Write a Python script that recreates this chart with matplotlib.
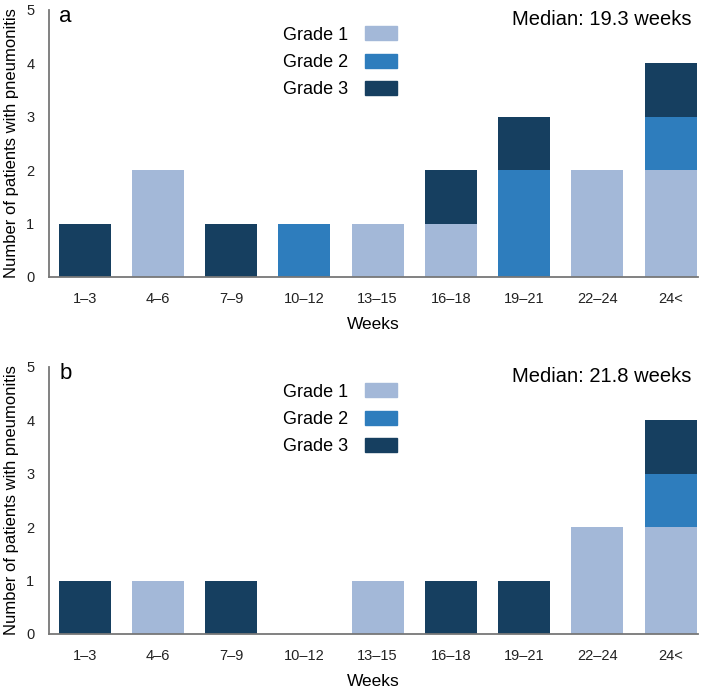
import numpy as np
import matplotlib.pyplot as plt
from matplotlib.patches import Patch

plt.rcParams['font.family'] = ['Liberation Sans', 'DejaVu Sans']

weeks = ['1\u20133', '4\u20136', '7\u20139', '10\u201312', '13\u201315',
         '16\u201318', '19\u201321', '22\u201324', '24<']
grades = ['Grade 1', 'Grade 2', 'Grade 3']
colors = ['#a3b8d8', '#2e7dbd', '#163f60']

# panel a
a_g1 = [0, 2, 0, 0, 1, 1, 0, 2, 2]
a_g2 = [0, 0, 0, 1, 0, 0, 2, 0, 1]
a_g3 = [1, 0, 1, 0, 0, 1, 1, 0, 1]
a_median = 'Median: 19.3 weeks'

# panel b
b_g1 = [0, 1, 0, 0, 1, 0, 0, 2, 2]
b_g2 = [0, 0, 0, 0, 0, 0, 0, 0, 1]
b_g3 = [1, 0, 1, 0, 0, 1, 1, 0, 1]
b_median = 'Median: 21.8 weeks'

fig = plt.figure(figsize=(7.09, 6.90), dpi=100)
ax_a = fig.add_axes([0.069, 0.5986, 0.916, 0.387])
ax_b = fig.add_axes([0.069, 0.0812, 0.916, 0.387])


def draw(ax, g1, g2, g3, median, letter):
    x = np.arange(len(weeks))
    w = 0.71
    ax.bar(x, g1, w, color=colors[0])
    ax.bar(x, g2, w, bottom=g1, color=colors[1])
    ax.bar(x, g3, w, bottom=np.array(g1) + np.array(g2), color=colors[2])
    ax.set_xlim(-0.49, len(weeks) - 1 + 0.38)
    ax.set_ylim(0, 5)
    ax.set_xticks(x)
    ax.set_xticklabels(weeks, fontsize=10.5, color='#222222')
    ax.set_yticks(range(6))
    ax.tick_params(axis='both', length=0, labelsize=10.5, colors='#222222')
    ax.tick_params(axis='x', pad=10.5)
    ax.tick_params(axis='y', pad=10.5)
    for s in ['top', 'right']:
        ax.spines[s].set_visible(False)
    for s in ['left', 'bottom']:
        ax.spines[s].set_color('#777777')
        ax.spines[s].set_linewidth(1.3)
    ax.set_xlabel('Weeks', fontsize=12.5, labelpad=8)
    ax.set_ylabel('Number of patients with pneumonitis', fontsize=12, labelpad=5)
    ax.text(0.990, 0.965, median, transform=ax.transAxes, ha='right', va='center',
            fontsize=14.5)
    ax.text(0.016, 0.975, letter, transform=ax.transAxes, ha='left', va='center',
            fontsize=16)
    handles = [Patch(color=c, label=g) for c, g in zip(colors, grades)]
    ax.legend(handles=handles, loc='upper left', bbox_to_anchor=(0.336, 1.0),
              frameon=False, markerfirst=False, fontsize=13,
              handlelength=1.77, handleheight=0.83, labelspacing=0.56,
              handletextpad=0.89)


draw(ax_a, a_g1, a_g2, a_g3, a_median, 'a')
draw(ax_b, b_g1, b_g2, b_g3, b_median, 'b')

fig.savefig('out.png', dpi=100)
